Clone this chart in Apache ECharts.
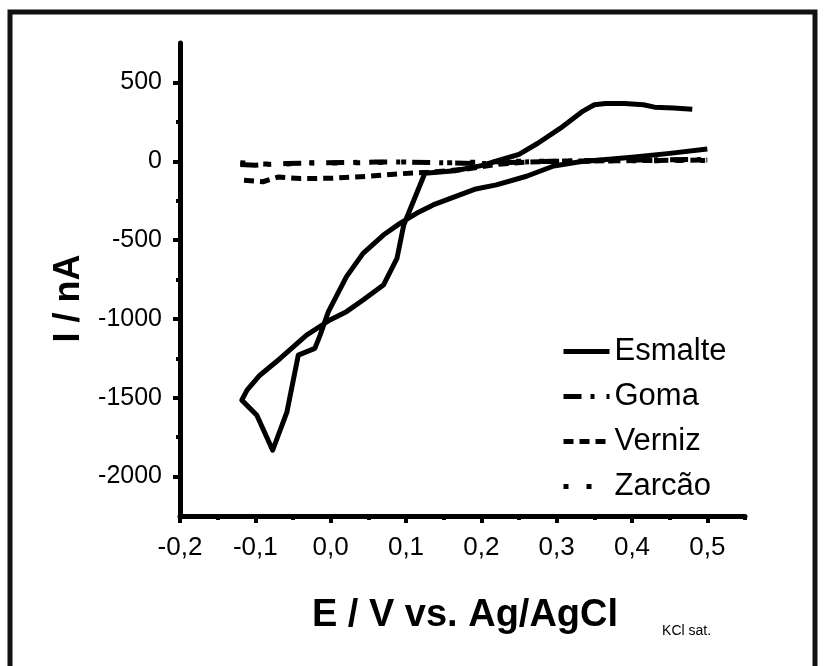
<!DOCTYPE html>
<html>
<head>
<meta charset="utf-8">
<script src="https://cdn.jsdelivr.net/npm/echarts@6/dist/echarts.min.js"></script>
<style>
html, body { margin: 0; padding: 0; background: #fff; }
#main { width: 827px; height: 666px; }
</style>
</head>
<body>
<div id="main"></div>
<script>
// tick values
var xTicks = [-0.2, -0.1, 0.0, 0.1, 0.2, 0.3, 0.4, 0.5];
var xMinorTicks = [-0.15, -0.05, 0.05, 0.15, 0.25, 0.35, 0.45, 0.55];
var yTicks = [-2000, -1500, -1000, -500, 0, 500];
var yMinorTicks = [-1750, -1250, -750, -250, 250];

// Esmalte (E in V, I in nA)
var eEsmalte = [0.480, 0.455, 0.430, 0.415, 0.390, 0.365, 0.350, 0.335, 0.305, 0.275, 0.250, 0.225, 0.200, 0.165, 0.125,
    0.097, 0.088, 0.070, 0.043, 0.021, -0.001, -0.032, -0.067, -0.094, -0.111, -0.118,
    -0.098, -0.077, -0.058, -0.043, -0.021, -0.014, -0.003, 0.021, 0.043, 0.070, 0.092, 0.114, 0.136, 0.159,
    0.191, 0.220, 0.260, 0.296, 0.331, 0.400, 0.450, 0.500];
var iEsmalte = [330, 338, 343, 358, 366, 366, 358, 318, 210, 114, 44, 8, -28, -60, -76,
    -404, -616, -785, -880, -954, -1007, -1103, -1251, -1357, -1452, -1515,
    -1611, -1833, -1589, -1230, -1187, -1103, -954, -732, -584, -468, -394, -330, -277, -235,
    -178, -150, -95, -30, -3, 25, 50, 78];

// Goma
var eGoma = [-0.12, -0.10, -0.06, -0.02, 0.02, 0.06, 0.10, 0.15, 0.20, 0.25, 0.30, 0.35, 0.40, 0.45, 0.50];
var iGoma = [-20, -25, -15, -10, -8, -5, -5, -10, -15, -5, 0, 5, 8, 10, 12];

// Verniz
var eVerniz = [-0.115, -0.09, -0.07, -0.04, 0.00, 0.05, 0.09, 0.13, 0.18, 0.22, 0.26, 0.30, 0.35, 0.40, 0.45, 0.50];
var iVerniz = [-120, -130, -100, -110, -108, -95, -80, -70, -50, -20, -5, 0, 2, 4, 6, 8];

// Zarcão
var eZarcao = [-0.12, -0.10, -0.07, -0.03, 0.00, 0.05, 0.10, 0.15, 0.20, 0.25, 0.30, 0.35, 0.40, 0.45, 0.50];
var iZarcao = [-10, -15, -20, -10, -12, -8, -5, -10, -5, 0, 0, 2, 3, 4, 5];

function pairs(xs, ys) {
    return xs.map(function (x, i) { return [x, ys[i]]; });
}

var fontFamily = '"Liberation Sans", Arial, sans-serif';

var myChart = echarts.init(document.getElementById('main'));

var option = {
    backgroundColor: '#fff',
    animation: false,
    textStyle: { fontFamily: fontFamily, color: '#000' },
    graphic: [{
        type: 'rect',
        shape: { x: 10, y: 12, width: 805, height: 680 },
        style: { fill: 'none', stroke: '#111', lineWidth: 5 },
        silent: true
    }],
    grid: {
        left: 180,
        right: 82,
        top: 43,
        bottom: 150
    },
    legend: {
        orient: 'vertical',
        left: 556,
        top: 331,
        itemWidth: 46,
        itemHeight: 14,
        itemGap: 14,
        itemStyle: { opacity: 0 },
        lineStyle: { width: 5 },
        textStyle: { fontSize: 31, color: '#000', fontFamily: fontFamily, lineHeight: 30 },
        data: ['Esmalte', 'Goma', 'Verniz', 'Zarcão']
    },
    xAxis: [{
        type: 'value',
        min: -0.2,
        max: 0.55,
        name: '{a|E / V vs. Ag/AgCl}{b|KCl sat.}',
        nameLocation: 'middle',
        nameGap: 78,
        nameTextStyle: {
            padding: [0, 0, 0, 98],
            rich: {
                a: { fontSize: 38, fontWeight: 'bold', color: '#000', fontFamily: fontFamily },
                b: { fontSize: 14, color: '#000', fontFamily: fontFamily, padding: [30, 0, 0, 44] }
            }
        },
        axisLine: { onZero: false, lineStyle: { color: '#000', width: 5 } },
        axisTick: { customValues: xTicks, length: 7, lineStyle: { width: 4, color: '#000' } },
        axisLabel: {
            customValues: xTicks,
            margin: 19,
            fontSize: 26,
            color: '#000',
            formatter: function (v) { return v.toFixed(1).replace('.', ','); }
        },
        splitLine: { show: false }
    }, {
        type: 'value',
        position: 'bottom',
        min: -0.2,
        max: 0.55,
        axisLine: { show: false, onZero: false },
        axisTick: { customValues: xMinorTicks, length: 4, lineStyle: { width: 4, color: '#000' } },
        axisLabel: { show: false },
        splitLine: { show: false }
    }],
    yAxis: [{
        type: 'value',
        min: -2250,
        max: 750,
        name: 'I / nA',
        nameLocation: 'middle',
        nameGap: 93,
        nameTextStyle: { fontSize: 36, fontWeight: 'bold', color: '#000', fontFamily: fontFamily, padding: [0, 38, 0, 0] },
        axisLine: { onZero: false, lineStyle: { color: '#000', width: 5 } },
        axisTick: { customValues: yTicks, length: 7, lineStyle: { width: 4, color: '#000' } },
        axisLabel: {
            customValues: yTicks,
            margin: 18,
            fontSize: 25,
            color: '#000',
            formatter: function (v) { return String(v); }
        },
        splitLine: { show: false }
    }, {
        type: 'value',
        position: 'left',
        min: -2250,
        max: 750,
        axisLine: { show: false, onZero: false },
        axisTick: { customValues: yMinorTicks, length: 4, lineStyle: { width: 4, color: '#000' } },
        axisLabel: { show: false },
        splitLine: { show: false }
    }],
    series: [{
        name: 'Esmalte',
        type: 'line',
        symbol: 'none',
        color: '#000',
        lineStyle: { color: '#000', width: 5, join: 'round' },
        data: pairs(eEsmalte, iEsmalte)
    }, {
        name: 'Goma',
        type: 'line',
        symbol: 'none',
        color: '#000',
        lineStyle: { color: '#000', width: 5, type: [18, 9, 4, 12] },
        data: pairs(eGoma, iGoma)
    }, {
        name: 'Verniz',
        type: 'line',
        symbol: 'none',
        color: '#000',
        lineStyle: { color: '#000', width: 5, type: [10, 6] },
        data: pairs(eVerniz, iVerniz)
    }, {
        name: 'Zarcão',
        type: 'line',
        symbol: 'none',
        color: '#000',
        lineStyle: { color: '#000', width: 5, type: [5, 18] },
        data: pairs(eZarcao, iZarcao)
    }]
};

myChart.setOption(option);
</script>
</body>
</html>
